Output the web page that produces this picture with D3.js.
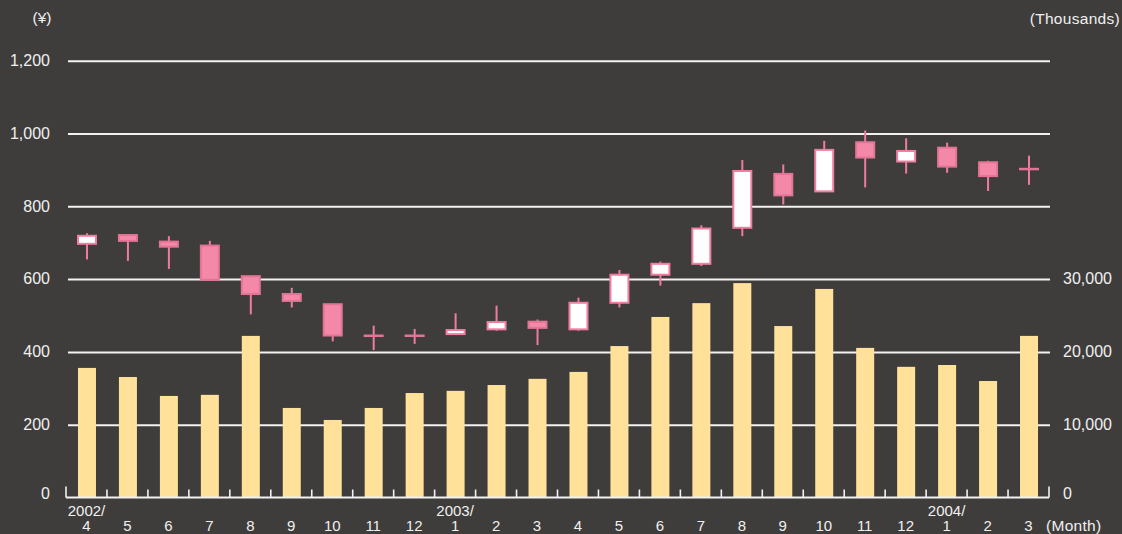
<!DOCTYPE html>
<html lang="en">
<head>
    <meta charset="UTF-8">
    <title>Share price and volume</title>
    <script src="https://cdn.jsdelivr.net/npm/d3@7"></script>
    <style>
        body { margin: 0; background: #3f3d3b; }
        text { font-family: "Liberation Sans", Arial, sans-serif; fill: #f0f0f0; }
    </style>
</head>
<body>
<script>
    // monthly periods, 2002/4 .. 2004/3
    const months = ["2002/4", "2002/5", "2002/6", "2002/7", "2002/8", "2002/9", "2002/10", "2002/11", "2002/12",
        "2003/1", "2003/2", "2003/3", "2003/4", "2003/5", "2003/6", "2003/7", "2003/8", "2003/9", "2003/10",
        "2003/11", "2003/12", "2004/1", "2004/2", "2004/3"];

    // share price (yen)
    const open  = [697, 721, 703, 692, 608, 559, 531, 445, 445, 449, 462, 483, 462, 535, 612, 642, 741, 889, 841, 976, 923, 961, 921, 903];
    const high  = [726, 722, 718, 705, 608, 576, 531, 472, 463, 506, 527, 489, 549, 625, 648, 748, 927, 915, 980, 1008, 987, 975, 925, 939];
    const low   = [654, 650, 628, 598, 503, 522, 429, 405, 422, 449, 458, 419, 458, 522, 582, 636, 718, 805, 841, 852, 890, 892, 842, 859];
    const close = [719, 705, 689, 598, 559, 540, 445, 445, 445, 460, 482, 466, 535, 612, 642, 739, 897, 830, 955, 934, 952, 909, 883, 903];

    // trading volume (thousands of shares)
    const volume = [17800, 16550, 13950, 14100, 22200, 12300, 10650, 12300, 14350, 14650, 15450, 16300,
        17250, 20800, 24800, 26700, 29450, 23550, 28650, 20550, 17950, 18200, 16000, 22200];

    const priceTicks = [200, 400, 600, 800, 1000, 1200];
    const volumeTicks = [0, 10000, 20000, 30000];

    const W = 1122, H = 534;
    const plotLeft = 66, plotRight = 1049, plotTop = 60.7, plotBottom = 497.5;

    const svg = d3.select('body').append('svg')
        .attr('width', W)
        .attr('height', H);

    svg.append('rect').attr('width', W).attr('height', H).attr('fill', '#3f3d3b');

    const x = d3.scaleBand().domain(months).range([plotLeft, plotRight]).padding(0);
    const y = d3.scaleLinear().domain([0, 1200]).range([plotBottom, plotTop]);
    const yVol = d3.scaleLinear().domain([0, 60000]).range([plotBottom, plotTop]);

    const step = x.step();
    const barW = 18;
    const bodyW = 18;

    // grid lines + left labels
    const yAxis = svg.append('g')
        .attr('transform', `translate(${plotLeft + 2},0)`)
        .call(d3.axisLeft(y).tickValues(priceTicks).tickSize(-(plotRight + 1 - plotLeft - 2)).tickPadding(18).tickFormat(d3.format(',')));
    yAxis.select('.domain').remove();
    yAxis.selectAll('line').attr('stroke', '#f2f2f2').attr('stroke-width', 2);
    yAxis.selectAll('text').style('font-size', '16px').attr('dy', '0.3em');

    svg.append('text')
        .attr('x', plotLeft - 16)
        .attr('y', plotBottom - 4)
        .attr('text-anchor', 'end')
        .style('font-size', '16px')
        .attr('dy', '0.35em')
        .text('0');

    // right axis (volume)
    const rAxis = svg.append('g')
        .attr('transform', `translate(${plotRight + 1},0)`)
        .call(d3.axisRight(yVol).tickValues(volumeTicks).tickSize(0).tickPadding(13).tickFormat(d3.format(',')));
    rAxis.select('.domain').remove();
    rAxis.selectAll('text').style('font-size', '16px').attr('dy', '0.3em')
        .attr('transform', d => d === 0 ? 'translate(0,-4)' : null);

    // volume bars
    svg.selectAll('.vol')
        .data(volume)
        .enter().append('rect')
        .attr('class', 'vol')
        .attr('x', (d, i) => x(months[i]) + step / 2 - barW / 2 + 0.5)
        .attr('y', d => yVol(d))
        .attr('width', barW)
        .attr('height', d => plotBottom - yVol(d))
        .attr('fill', '#ffe19a');

    // baseline + month ticks
    svg.append('line')
        .attr('x1', plotLeft).attr('x2', plotRight)
        .attr('y1', plotBottom).attr('y2', plotBottom)
        .attr('stroke', '#f2f2f2').attr('stroke-width', 2);

    const bounds = months.map(m => x(m)).concat([plotRight]);
    svg.selectAll('.tick-mark')
        .data(bounds)
        .enter().append('line')
        .attr('class', 'tick-mark')
        .attr('x1', d => d).attr('x2', d => d)
        .attr('y1', plotBottom)
        .attr('y2', (d, i) => (i === 0 || i === bounds.length - 1) ? plotBottom - 11 : plotBottom - 8)
        .attr('stroke', '#f2f2f2').attr('stroke-width', 1.6);

    // candlesticks
    const candles = svg.selectAll('.candle')
        .data(months)
        .enter().append('g')
        .attr('class', 'candle')
        .attr('transform', (d, i) => `translate(${x(d) + step / 2 + 0.5},0)`);

    candles.append('line')
        .attr('y1', (d, i) => y(high[i]))
        .attr('y2', (d, i) => y(low[i]))
        .attr('stroke', '#ec7d9f')
        .attr('stroke-width', 2);

    candles.append('rect')
        .attr('x', -bodyW / 2)
        .attr('y', (d, i) => y(Math.max(open[i], close[i])))
        .attr('width', bodyW)
        .attr('height', (d, i) => Math.max(0.5, Math.abs(y(open[i]) - y(close[i]))))
        .attr('fill', (d, i) => close[i] > open[i] ? '#ffffff' : '#f388a9')
        .attr('stroke', (d, i) => close[i] > open[i] ? '#f07ea1' : '#e27596')
        .attr('stroke-width', 2);

    // month labels
    svg.selectAll('.month')
        .data(months)
        .enter().append('text')
        .attr('class', 'month')
        .attr('x', d => x(d) + step / 2)
        .attr('y', 530.5)
        .attr('text-anchor', 'middle')
        .style('font-size', '15px')
        .text(d => d.split('/')[1]);

    // year labels on first month of each year in view
    svg.selectAll('.year')
        .data(months.filter((d, i) => i === 0 || d.endsWith('/1')))
        .enter().append('text')
        .attr('class', 'year')
        .attr('x', d => x(d) + step / 2)
        .attr('y', 515.5)
        .attr('text-anchor', 'middle')
        .style('font-size', '15px')
        .text(d => d.split('/')[0] + '/');

    svg.append('text')
        .attr('x', 1046).attr('y', 530.5)
        .style('font-size', '15.5px')
        .style('letter-spacing', '0.3px')
        .text('(Month)');

    svg.append('text')
        .attr('x', 42).attr('y', 23)
        .attr('text-anchor', 'middle')
        .style('font-size', '15.5px')
        .text('(¥)');

    svg.append('text')
        .attr('x', 1120).attr('y', 24)
        .attr('text-anchor', 'end')
        .style('font-size', '15.5px')
        .style('letter-spacing', '0.3px')
        .text('(Thousands)');
</script>
</body>
</html>
